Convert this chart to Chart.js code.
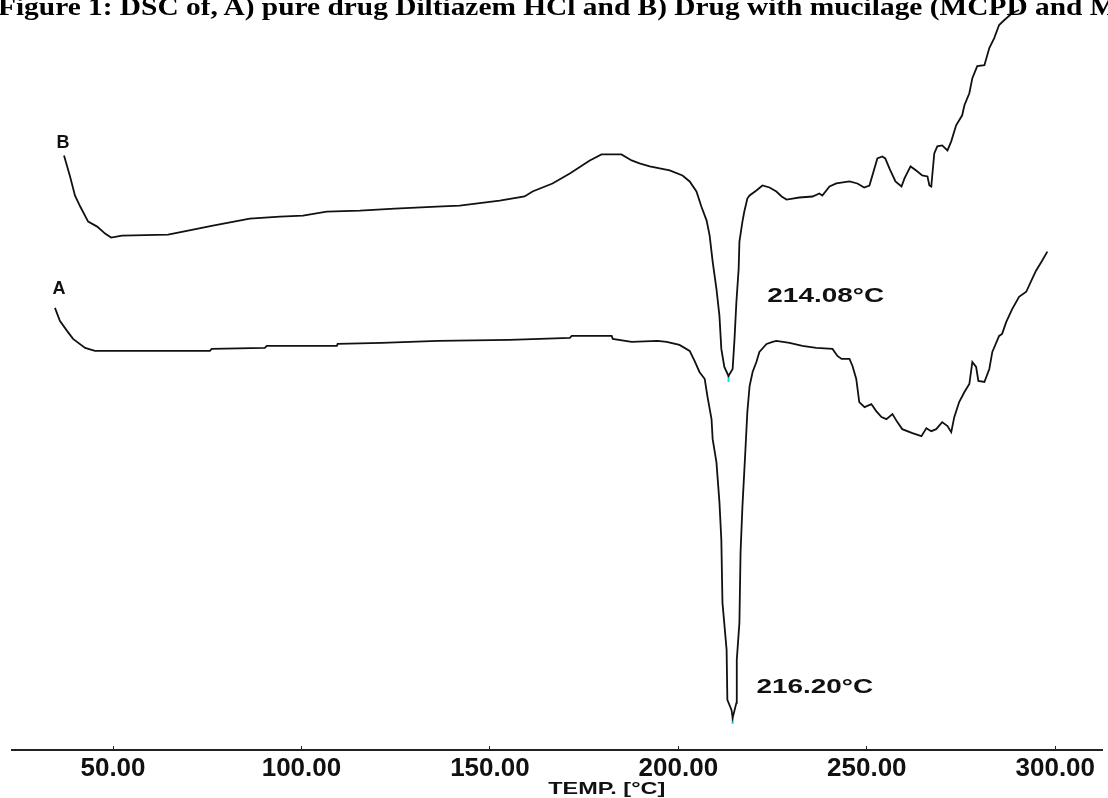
<!DOCTYPE html>
<html lang="en">
<head>
    <meta charset="UTF-8">
    <title>DSC of Diltiazem HCl</title>
    <script src="https://cdn.jsdelivr.net/npm/chart.js"></script>
    <style>
        body {
            margin: 0;
            background: #fff;
            overflow: hidden;
        }

        #wrap {
            position: relative;
            width: 1108px;
            height: 798px;
            overflow: hidden;
        }

        #figTitle {
            position: absolute;
            left: -2px;
            top: -6px;
            font-family: "Liberation Serif", "Times New Roman", serif;
            font-weight: bold;
            font-size: 26px;
            line-height: 1;
            white-space: nowrap;
            color: #000;
            transform: scaleX(1.13);
            transform-origin: left top;
        }
    </style>
</head>
<body>

<div id="wrap">
    <canvas id="dscChart" width="1108" height="798"></canvas>
    <div id="figTitle">Figure 1: DSC of, A) pure drug Diltiazem HCl and B) Drug with mucilage (MCPD and MCPC)</div>
</div>

<script>
    // temperature (°C) and heat flow (arbitrary units)
    var tempB = [37.0, 38.6, 39.9, 41.3, 43.4, 45.8, 47.9, 49.5, 52.4, 64.6,
        68.6, 76.5, 86.3, 94.3, 100.4, 106.7, 115.5, 124.8, 135.9, 142.0,
        152.6, 159.2, 161.3, 166.6, 171.2, 176.5, 179.6, 184.9, 187.6, 189.7,
        192.4, 197.7, 201.1, 203.0, 204.8, 206.1, 207.5, 208.3, 209.1, 210.1,
        210.9, 211.4, 212.2, 213.3, 214.4, 214.9, 215.4, 216.0, 216.2, 217.0,
        217.5, 218.3, 218.9, 220.7, 222.3, 224.2, 226.0, 227.4, 228.7, 230.3,
        232.1, 235.6, 237.4, 238.2, 240.1, 241.9, 245.4, 247.5, 249.3, 250.7,
        252.8, 254.1, 254.9, 256.0, 257.6, 259.2, 260.0, 261.6, 263.1, 264.7,
        266.1, 266.6, 267.1, 267.9, 268.7, 270.0, 271.4, 272.4, 273.7, 275.3,
        275.9, 277.2, 278.0, 279.3, 281.2, 282.5, 283.8, 285.1, 286.5, 288.6,
        290.4];
    var heatB = [593, 572, 553, 542, 527, 522, 515, 511, 513, 514,
        517, 523, 530, 532, 533, 537, 538, 540, 542, 543,
        548, 552, 557, 565, 575, 588, 594, 594, 588, 585,
        582, 578, 573, 567, 557, 542, 528, 513, 487, 460,
        433, 400, 382, 373, 380, 410, 447, 480, 507, 527,
        537, 550, 553, 558, 563, 561, 557, 552, 549, 550,
        551, 552, 555, 553, 562, 565, 567, 565, 561, 563,
        590, 592, 590, 580, 567, 562, 570, 582, 578, 573,
        572, 563, 562, 595, 602, 603, 598, 607, 623, 633,
        643, 655, 670, 682, 683, 700, 710, 723, 728, 735,
        738];

    var tempA = [34.6, 35.9, 37.8, 39.4, 42.6, 45.2, 75.7, 76.2, 90.3, 90.8,
        109.4, 109.6, 121.3, 136.2, 155.2, 171.2, 171.7, 182.3, 182.6, 187.6,
        194.5, 196.9, 200.3, 203.0, 204.3, 205.6, 207.0, 207.7, 208.8, 209.1,
        210.1, 210.9, 211.4, 211.7, 212.8, 213.0, 214.1, 214.4, 215.4, 215.5,
        216.2, 216.5, 217.0, 217.8, 218.3, 218.9, 219.7, 220.7, 221.5, 223.4,
        225.0, 226.0, 229.5, 232.9, 236.6, 240.9, 242.2, 243.3, 245.4, 246.2,
        247.2, 248.0, 249.4, 251.2, 252.5, 253.9, 255.2, 256.8, 258.1, 259.4,
        262.1, 264.5, 265.8, 267.1, 268.4, 270.0, 271.4, 272.4, 273.2, 274.5,
        275.9, 277.2, 278.0, 279.0, 279.6, 281.2, 282.5, 283.3, 285.1, 285.9,
        287.0, 288.6, 290.4, 292.3, 293.9, 294.9, 296.5, 297.9];
    var heatA = [441, 428, 418, 410, 401, 398, 398, 400, 401, 403,
        403, 405, 406, 408, 409, 411, 413, 413, 410, 407,
        408, 407, 404, 398, 388, 377, 370, 353, 330, 310,
        287, 247, 210, 147, 100, 50, 40, 32, 47, 90,
        127, 197, 243, 300, 337, 363, 377, 387, 397, 405,
        407, 408, 406, 403, 401, 400, 393, 390, 390, 383,
        370, 347, 342, 345, 338, 332, 330, 335, 327, 320,
        316, 313, 321, 318, 320, 327, 323, 317, 332, 347,
        357, 365, 387, 382, 368, 367, 380, 397, 413, 415,
        427, 440, 452, 457, 470, 478, 488, 497];

    // peak minima (cyan markers)
    var peakTemp = [213.3, 214.4];
    var peakHeat = [370, 29];

    var xTicks = [50, 100, 150, 200, 250, 300];

    // text placed on the plot, in data coordinates
    var notes = [
        { text: 'B', t: 36.7, v: 605, size: 18, stretch: 1.0, align: 'center' },
        { text: 'A', t: 35.7, v: 460, size: 18, stretch: 1.0, align: 'center' },
        { text: '214.08°C', t: 223.6, v: 453, size: 21, stretch: 1.33, align: 'left' },
        { text: '216.20°C', t: 220.7, v: 63, size: 21, stretch: 1.33, align: 'left' }
    ];

    function toPoints(xs, ys) {
        var pts = [];
        for (var i = 0; i < xs.length; i++) {
            pts.push({ x: xs[i], y: ys[i] });
        }
        return pts;
    }

    var notesPlugin = {
        id: 'notes',
        afterDatasetsDraw: function (chart) {
            var ctx = chart.ctx;
            var xs = chart.scales.x;
            var ys = chart.scales.y;
            ctx.save();
            ctx.fillStyle = '#111';
            ctx.textBaseline = 'middle';
            notes.forEach(function (n) {
                var px = xs.getPixelForValue(n.t);
                var py = ys.getPixelForValue(n.v);
                ctx.save();
                ctx.translate(px, py);
                ctx.scale(n.stretch, 1);
                ctx.font = 'bold ' + n.size + 'px "Liberation Sans", Arial, sans-serif';
                ctx.textAlign = n.align;
                ctx.fillText(n.text, 0, 0);
                ctx.restore();
            });
            // axis title, sits left of centre in the original
            ctx.save();
            ctx.translate(xs.getPixelForValue(181), xs.bottom - 9);
            ctx.scale(1.38, 1);
            ctx.font = 'bold 17px "Liberation Sans", Arial, sans-serif';
            ctx.textAlign = 'center';
            ctx.fillText('TEMP. [°C]', 0, 0);
            ctx.restore();
            ctx.restore();
        }
    };

    var ctx = document.getElementById('dscChart').getContext('2d');
    var dscChart = new Chart(ctx, {
        type: 'line',
        data: {
            datasets: [{
                label: 'B',
                data: toPoints(tempB, heatB),
                borderColor: '#111',
                borderWidth: 1.8,
                pointRadius: 0,
                tension: 0,
                fill: false
            }, {
                label: 'A',
                data: toPoints(tempA, heatA),
                borderColor: '#111',
                borderWidth: 1.8,
                pointRadius: 0,
                tension: 0,
                fill: false
            }, {
                label: 'peaks',
                data: toPoints(peakTemp, peakHeat),
                showLine: false,
                pointStyle: 'line',
                rotation: 90,
                pointRadius: 3,
                borderColor: '#00e5ff',
                borderWidth: 2
            }]
        },
        options: {
            responsive: false,
            animation: false,
            layout: {
                padding: { left: 12, right: 0, top: 0, bottom: 0 }
            },
            plugins: {
                legend: { display: false },
                tooltip: { enabled: false }
            },
            scales: {
                x: {
                    type: 'linear',
                    position: 'bottom',
                    min: 23.2,
                    max: 312.4,
                    afterBuildTicks: function (scale) {
                        scale.ticks = xTicks.map(function (v) { return { value: v }; });
                    },
                    afterFit: function (scale) {
                        scale.height = 48;
                    },
                    border: {
                        display: true,
                        color: '#222',
                        width: 2
                    },
                    grid: {
                        drawOnChartArea: false,
                        drawTicks: true,
                        tickLength: -4,
                        color: '#222',
                        lineWidth: 1
                    },
                    ticks: {
                        autoSkip: false,
                        maxRotation: 0,
                        padding: 7,
                        color: '#111',
                        font: {
                            family: '"Liberation Sans", Arial, sans-serif',
                            size: 26,
                            weight: 'bold'
                        },
                        callback: function (value) {
                            return Number(value).toFixed(2);
                        }
                    }
                },
                y: {
                    display: false,
                    min: 0,
                    max: 742
                }
            }
        },
        plugins: [notesPlugin]
    });
</script>

</body>
</html>
